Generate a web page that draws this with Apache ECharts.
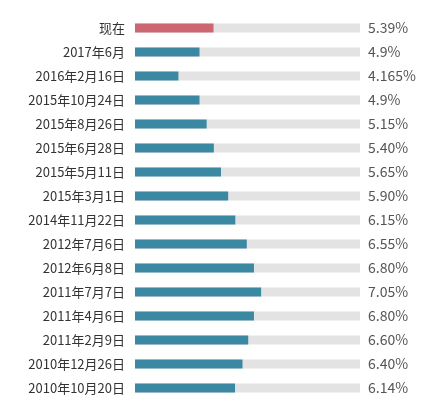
<!DOCTYPE html>
<html>
<head>
<meta charset="utf-8">
<script src="https://cdn.jsdelivr.net/npm/echarts@6/dist/echarts.min.js"></script>
<style>html,body{margin:0;padding:0;background:#fff;}#c{width:421px;height:402px;}</style>
</head>
<body>
<div id="c"></div>
<script>
var categories = ['现在','2017年6月','2016年2月16日','2015年10月24日','2015年8月26日','2015年6月28日','2015年5月11日','2015年3月1日','2014年11月22日','2012年7月6日','2012年6月8日','2011年7月7日','2011年4月6日','2011年2月9日','2010年12月26日','2010年10月20日'];
var rates = [5.39,4.9,4.165,4.9,5.15,5.40,5.65,5.90,6.15,6.55,6.80,7.05,6.80,6.60,6.40,6.14];
var rateLabels = ['5.39%','4.9%','4.165%','4.9%','5.15%','5.40%','5.65%','5.90%','6.15%','6.55%','6.80%','7.05%','6.80%','6.60%','6.40%','6.14%'];

var chart = echarts.init(document.getElementById('c'));
var font = '"Noto Sans CJK SC","Noto Sans",sans-serif';
chart.setOption({
  animation: false,
  grid: {left: 135, right: 61, top: 16, bottom: 2},
  xAxis: {type: 'value', min: 2.65, max: 10.5, show: false},
  yAxis: [{
    type: 'category', data: categories, inverse: true,
    axisLine: {show: false}, axisTick: {show: false},
    axisLabel: {margin: 10, fontSize: 13, color: '#333', fontFamily: font}
  }, {
    type: 'category', data: rateLabels, inverse: true, position: 'right',
    axisLine: {show: false}, axisTick: {show: false},
    axisLabel: {margin: 8, fontSize: 14, color: '#555', fontFamily: font}
  }],
  series: [{
    type: 'bar', data: rates.map(function(v, i){
      return {value: v, itemStyle: {color: i === 0 ? '#cc6670' : '#3a88a2'}};
    }),
    barWidth: 9,
    showBackground: true,
    backgroundStyle: {color: '#e3e3e3'}
  }]
});
</script>
</body>
</html>
